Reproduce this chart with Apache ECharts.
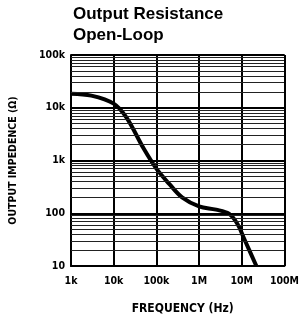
<!DOCTYPE html>
<html><head><meta charset="utf-8">
<script src="https://cdn.jsdelivr.net/npm/echarts@6/dist/echarts.min.js"></script>
<style>html,body{margin:0;padding:0;background:#fff}#c{width:302px;height:322px}</style>
</head><body><div id="c"></div>
<script>
const freqHz = [1e3, 3e3, 1e4, 2e4, 5e4, 1e5, 2e5, 4e5, 1e6, 2.5e6, 5e6, 8e6, 1.1e7, 1.5e7, 2.2e7];
const impedanceOhm = [18500, 17000, 12000, 6500, 1700, 700, 360, 200, 135, 117, 98, 62, 35, 20, 10];
const xTickLabels = {1e3:'1k',1e4:'10k',1e5:'100k',1e6:'1M',1e7:'10M',1e8:'100M'};
const yTickLabels = {10:'10',100:'100',1e3:'1k',1e4:'10k',1e5:'100k'};
const titleLines = ['Output Resistance', 'Open-Loop'];

const minorY = [];
for (let d = 10; d < 1e5; d *= 10) for (let m = 2; m <= 9; m++) minorY.push(d * m);

const narrow = '"DejaVu Sans Condensed","Liberation Sans Narrow",sans-serif';
const chart = echarts.init(document.getElementById('c'), null, {renderer:'canvas'});
chart.setOption({
  animation: false,
  title: {
    text: titleLines.join('\n'), left: 73, top: 4, padding: 0,
    textStyle: {fontFamily:'"Liberation Sans",Arial,sans-serif', fontWeight:'bold', fontSize:17, lineHeight:21, color:'#000'}
  },
  grid: {left: 71, right: 17, top: 55, bottom: 56},
  xAxis: {
    type: 'log', logBase: 10, min: 1e3, max: 1e8,
    name: 'FREQUENCY (Hz)', nameLocation: 'middle', nameGap: 37,
    nameTextStyle: {fontFamily: narrow, fontWeight:'bold', fontSize:12, color:'#000', padding:[0,0,0,10]},
    axisLine: {show:true, lineStyle:{color:'#000', width:2}},
    axisTick: {show:false},
    axisLabel: {formatter: v => xTickLabels[Math.round(v)] || '', fontFamily: narrow, fontWeight:'bold', fontSize:10.5, color:'#000', margin: 10},
    splitLine: {show:true, lineStyle:{color:'#000', width:2}}
  },
  yAxis: {
    type: 'log', logBase: 10, min: 10, max: 1e5,
    name: 'OUTPUT IMPEDENCE (Ω)', nameLocation: 'middle', nameGap: 52, nameRotate: 90,
    nameTextStyle: {fontFamily: narrow, fontWeight:'bold', fontSize:10.5, color:'#000'},
    axisLine: {show:true, lineStyle:{color:'#000', width:2}},
    axisTick: {show:false},
    axisLabel: {formatter: v => yTickLabels[Math.round(v)] || '', fontFamily: narrow, fontWeight:'bold', fontSize:10.5, color:'#000', margin: 6},
    splitLine: {show:true, lineStyle:{color:'#000', width:2}}
  },
  series: [{
    type: 'line', data: freqHz.map((f, i) => [f, impedanceOhm[i]]),
    smooth: 0.35, showSymbol: false, symbol: 'none',
    lineStyle: {color:'#000', width:4},
    clip: true,
    markLine: {
      silent: true, symbol: 'none', animation: false,
      label: {show:false},
      lineStyle: {color:'#222', width:1, type:'solid'},
      data: minorY.map(v => ({yAxis: v}))
    }
  }, {
    type: 'line', data: [],
    markLine: {
      silent: true, symbol: 'none', label:{show:false},
      lineStyle: {color:'#000', width:2, type:'solid'},
      data: [{xAxis: 1e8}, {yAxis: 1e5}]
    }
  }]
});
</script></body></html>
